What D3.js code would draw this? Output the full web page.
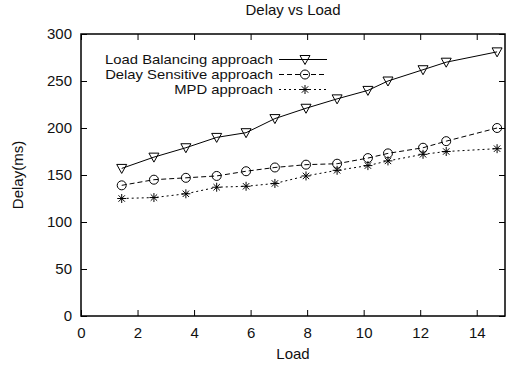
<!DOCTYPE html>
<html lang="en">
<head>
<meta charset="UTF-8">
<script src="https://d3js.org/d3.v7.min.js"></script>
<style>
  body { margin: 0; background: #fff; }
  text { font-family: "Liberation Sans", Arial, sans-serif; font-size: 15px; fill: #111; }
</style>
</head>
<body>
<script>
// data
var load = [1.44, 2.58, 3.71, 4.80, 5.84, 6.86, 7.96, 9.06, 10.15, 10.86, 12.1, 12.92, 14.72];
var loadBalancing = [157, 169, 179, 190, 195, 210, 221, 231, 240, 250, 262, 270, 281];
var delaySensitive = [139, 145, 147, 149, 154, 158, 161, 162, 168, 173, 179, 186, 200];
var mpd = [125, 126, 130, 137, 138, 141, 149, 155, 160, 165, 172, 175, 178];
var seriesNames = ["Load Balancing approach", "Delay Sensitive approach", "MPD approach"];
var xTicks = [0, 2, 4, 6, 8, 10, 12, 14];
var yTicks = [0, 50, 100, 150, 200, 250, 300];

var width = 516, height = 368;
var margin = { top: 34, right: 11, bottom: 52, left: 81 };

var svg = d3.select("body").append("svg")
    .attr("width", width)
    .attr("height", height);

var x = d3.scaleLinear().domain([0, 15]).range([margin.left, width - margin.right]);
var y = d3.scaleLinear().domain([0, 300]).range([height - margin.bottom, margin.top]);

var tickLen = 6;

// ticks inside the frame, mirrored on top/right
svg.append("g")
    .attr("transform", "translate(0," + y(0) + ")")
    .call(d3.axisBottom(x).tickValues(xTicks).tickSizeInner(-tickLen).tickSizeOuter(0).tickPadding(11))
    .call(g => g.select(".domain").remove());
svg.append("g")
    .attr("transform", "translate(0," + y(300) + ")")
    .call(d3.axisTop(x).tickValues(xTicks).tickSizeInner(-tickLen).tickSizeOuter(0).tickFormat(""))
    .call(g => g.select(".domain").remove());
svg.append("g")
    .attr("transform", "translate(" + x(0) + ",0)")
    .call(d3.axisLeft(y).tickValues(yTicks).tickSizeInner(-tickLen).tickSizeOuter(0).tickPadding(9))
    .call(g => g.select(".domain").remove());
svg.append("g")
    .attr("transform", "translate(" + x(15) + ",0)")
    .call(d3.axisRight(y).tickValues(yTicks).tickSizeInner(-tickLen).tickSizeOuter(0).tickFormat(""))
    .call(g => g.select(".domain").remove());

svg.selectAll(".tick line").attr("stroke", "#000").attr("stroke-width", 1);
svg.selectAll(".tick text").style("font-size", "15px").attr("fill", "#111");

// frame
svg.append("rect")
    .attr("x", x(0)).attr("y", y(300))
    .attr("width", x(15) - x(0)).attr("height", y(0) - y(300))
    .attr("fill", "none").attr("stroke", "#000").attr("stroke-width", 1.5);

// titles
svg.append("text").attr("x", 293).attr("y", 15).attr("text-anchor", "middle").text("Delay vs Load");
svg.append("text").attr("x", 293).attr("y", 359).attr("text-anchor", "middle").text("Load");
svg.append("text")
    .attr("transform", "translate(23," + ((y(0) + y(300)) / 2) + ") rotate(-90)")
    .attr("text-anchor", "middle").text("Delay(ms)");

var series = [
    { name: seriesNames[0], values: loadBalancing, dash: null, sym: "tri" },
    { name: seriesNames[1], values: delaySensitive, dash: "5,3", sym: "circle" },
    { name: seriesNames[2], values: mpd, dash: "2,3", sym: "star" }
];

function drawSymbol(g, type, cx, cy) {
    if (type === "tri") {
        g.append("path")
            .attr("d", "M" + (cx - 5) + "," + (cy - 4) + "L" + (cx + 5) + "," + (cy - 4) + "L" + cx + "," + (cy + 5) + "Z")
            .attr("fill", "none").attr("stroke", "#000").attr("stroke-width", 1);
    } else if (type === "circle") {
        g.append("circle").attr("cx", cx).attr("cy", cy).attr("r", 4.5)
            .attr("fill", "none").attr("stroke", "#000").attr("stroke-width", 1);
    } else {
        var s = 4.5, d = 3.2;
        g.append("path")
            .attr("d", "M" + (cx - s) + "," + cy + "H" + (cx + s) +
                "M" + cx + "," + (cy - s) + "V" + (cy + s) +
                "M" + (cx - d) + "," + (cy - d) + "L" + (cx + d) + "," + (cy + d) +
                "M" + (cx - d) + "," + (cy + d) + "L" + (cx + d) + "," + (cy - d))
            .attr("fill", "none").attr("stroke", "#000").attr("stroke-width", 1);
    }
}

var line = d3.line().x(d => x(d[0])).y(d => y(d[1]));

series.forEach(function (s, i) {
    var pts = load.map((l, j) => [l, s.values[j]]);
    var g = svg.append("g");
    g.append("path").datum(pts)
        .attr("d", line)
        .attr("fill", "none").attr("stroke", "#000").attr("stroke-width", 1)
        .attr("stroke-dasharray", s.dash);
    pts.forEach(p => drawSymbol(g, s.sym, x(p[0]), y(p[1])));

    // legend: smaller font stretched sideways so rows do not collide
    var ly = 59.5 + i * 15;
    svg.append("text")
        .attr("transform", "translate(273," + (ly + 4.5) + ") scale(1.14,1)")
        .attr("text-anchor", "end")
        .style("font-size", "13px")
        .text(s.name);
    svg.append("line").attr("x1", 279).attr("x2", 327).attr("y1", ly).attr("y2", ly)
        .attr("stroke", "#000").attr("stroke-width", 1).attr("stroke-dasharray", s.dash);
    drawSymbol(svg, s.sym, 305, ly);
});
</script>
</body>
</html>
